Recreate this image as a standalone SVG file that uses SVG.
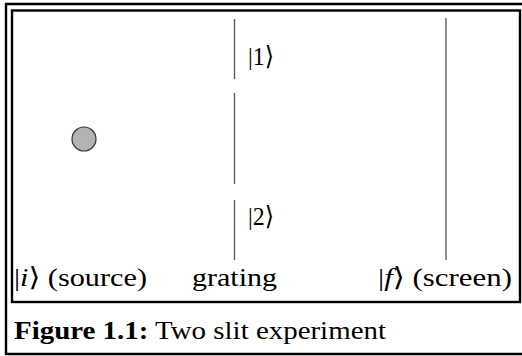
<svg xmlns="http://www.w3.org/2000/svg" width="522" height="356" viewBox="0 0 522 356">
<style>
.frame{fill:none;stroke:#000;stroke-width:2.4}
.wall{stroke:#555;stroke-width:1.3;fill:none}
.t{font-family:"Liberation Serif","Times New Roman","DejaVu Serif",serif;font-size:26px;fill:#000}
.b{font-weight:bold}
.it{font-style:italic}
</style>
<rect x="0" y="0" width="522" height="356" fill="#fff"/>
<g id="figure-frame">
<path class="frame" d="M530,4 H6 V354 H530"/>
</g>
<g id="panel-frame">
<rect class="frame" x="12" y="10.5" width="508" height="291.5"/>
</g>
<g id="source">
<circle cx="84" cy="139" r="12" fill="#b3b3b3" stroke="#333" stroke-width="1.2"/>
<text class="t" x="14" y="286" textLength="133" lengthAdjust="spacingAndGlyphs">|<tspan class="it">i</tspan>⟩ (source)</text>
</g>
<g id="grating">
<line class="wall" x1="234.5" y1="19" x2="234.5" y2="79"/>
<line class="wall" x1="234.5" y1="93" x2="234.5" y2="184"/>
<line class="wall" x1="234.5" y1="200" x2="234.5" y2="260"/>
<text class="t" x="192" y="286" textLength="85" lengthAdjust="spacingAndGlyphs">grating</text>
</g>
<g id="slit1">
<text class="t" x="248" y="65" textLength="26" lengthAdjust="spacingAndGlyphs">|1⟩</text>
</g>
<g id="slit2">
<text class="t" x="248" y="225" textLength="26" lengthAdjust="spacingAndGlyphs">|2⟩</text>
</g>
<g id="screen">
<line class="wall" x1="446" y1="18" x2="446" y2="260"/>
<text class="t" x="378" y="286" textLength="134" lengthAdjust="spacingAndGlyphs">|<tspan class="it">f</tspan>⟩ (screen)</text>
</g>
<g id="connectors"></g>
<g id="caption">
<text class="t" x="14" y="339" textLength="372" lengthAdjust="spacingAndGlyphs"><tspan class="b">Figure 1.1:</tspan> Two slit experiment</text>
</g>
</svg>
